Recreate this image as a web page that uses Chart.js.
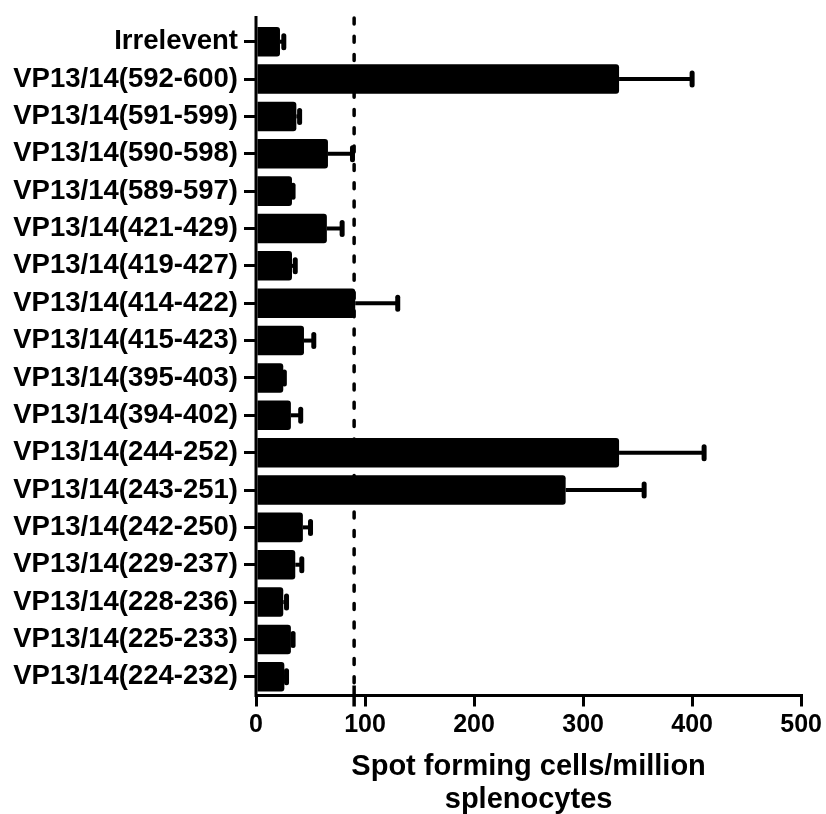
<!DOCTYPE html>
<html>
<head>
<meta charset="utf-8">
<script src="https://cdn.jsdelivr.net/npm/chart.js@4.4.1/dist/chart.umd.min.js"></script>
<style>
  html, body { margin: 0; padding: 0; background: #fff; }
  #wrap { width: 826px; height: 814px; }
</style>
</head>
<body>
<div id="wrap"><canvas id="spotChart"></canvas></div>
<script>
// peptide pools, top to bottom
const peptides = [
    'Irrelevent',
    'VP13/14(592-600)',
    'VP13/14(591-599)',
    'VP13/14(590-598)',
    'VP13/14(589-597)',
    'VP13/14(421-429)',
    'VP13/14(419-427)',
    'VP13/14(414-422)',
    'VP13/14(415-423)',
    'VP13/14(395-403)',
    'VP13/14(394-402)',
    'VP13/14(244-252)',
    'VP13/14(243-251)',
    'VP13/14(242-250)',
    'VP13/14(229-237)',
    'VP13/14(228-236)',
    'VP13/14(225-233)',
    'VP13/14(224-232)'
];
// mean SFC / million splenocytes
const meanSfc = [22, 333, 37, 66, 33, 65, 33, 91, 44, 25, 32, 333, 284, 43, 36, 25, 32, 26];
// SEM (only upper half shown)
const semSfc = [3.5, 67, 3, 22.5, 1, 14, 3, 39, 9, 1, 9, 78, 72, 7, 6, 3, 2, 2];
const xTicks = [0, 100, 200, 300, 400, 500];
const cutoff = 90;

const FONT = "'Liberation Sans', Arial, sans-serif";

const errorBars = {
    id: 'errorBars',
    afterDatasetsDraw(chart) {
        const ctx = chart.ctx;
        const xs = chart.scales.x;
        const meta = chart.getDatasetMeta(0);
        ctx.save();
        ctx.strokeStyle = '#000';
        meta.data.forEach((bar, i) => {
            const x0 = xs.getPixelForValue(meanSfc[i]);
            const x1 = xs.getPixelForValue(meanSfc[i] + semSfc[i]);
            const y = bar.y;
            ctx.lineWidth = 4;
            ctx.lineCap = 'butt';
            ctx.beginPath();
            ctx.moveTo(x0, y);
            ctx.lineTo(x1, y);
            ctx.stroke();
            ctx.lineWidth = 5;
            ctx.lineCap = 'round';
            ctx.beginPath();
            ctx.moveTo(x1, y - 6);
            ctx.lineTo(x1, y + 6);
            ctx.stroke();
        });
        ctx.restore();
    }
};

const axisExtras = {
    id: 'axisExtras',
    afterDraw(chart) {
        const ctx = chart.ctx;
        const area = chart.chartArea;
        const xs = chart.scales.x;
        ctx.save();
        ctx.strokeStyle = '#000';
        // y axis line, runs a bit above the first band
        ctx.lineWidth = 3;
        ctx.beginPath();
        ctx.moveTo(area.left, 16);
        ctx.lineTo(area.left, area.bottom + 1.5);
        ctx.stroke();
        // dashed cutoff
        const xc = xs.getPixelForValue(cutoff);
        ctx.lineWidth = 3.5;
        ctx.lineCap = 'round';
        ctx.setLineDash([6, 12.3]);
        ctx.beginPath();
        ctx.moveTo(xc, 18);
        ctx.lineTo(xc, area.bottom - 8);
        ctx.stroke();
        ctx.setLineDash([]);
        ctx.lineCap = 'butt';
        ctx.beginPath();
        ctx.moveTo(xc, area.bottom - 10);
        ctx.lineTo(xc, area.bottom + 11);
        ctx.stroke();
        ctx.restore();
    }
};

new Chart(document.getElementById('spotChart'), {
    type: 'bar',
    data: {
        labels: peptides,
        datasets: [{
            data: meanSfc,
            backgroundColor: '#000',
            borderWidth: 0,
            borderRadius: 3,
            categoryPercentage: 1,
            barPercentage: 0.79
        }]
    },
    options: {
        indexAxis: 'y',
        responsive: true,
        maintainAspectRatio: false,
        animation: false,
        layout: { padding: { top: 23, right: 24, bottom: 0, left: 0 } },
        plugins: { legend: { display: false }, tooltip: { enabled: false } },
        scales: {
            x: {
                min: 0,
                max: 500,
                afterBuildTicks: (scale) => { scale.ticks = xTicks.map(v => ({ value: v })); },
                afterFit: (scale) => { scale.height = 118.5; },
                grid: { drawOnChartArea: false, tickLength: 11, lineWidth: 3, color: '#000' },
                border: { display: true, width: 3, color: '#000' },
                ticks: { color: '#000', padding: 4, font: { family: FONT, size: 25, weight: 'bold' } },
                title: {
                    display: true,
                    text: ['Spot forming cells/million', 'splenocytes'],
                    color: '#000',
                    padding: { top: 0, bottom: -3 },
                    font: { family: FONT, size: 29, weight: 'bold', lineHeight: 1.15 }
                }
            },
            y: {
                afterFit: (scale) => { scale.width = 256; },
                grid: { offset: false, drawOnChartArea: false, tickLength: 12, lineWidth: 3, color: '#000' },
                border: { display: false },
                ticks: { color: '#000', padding: 6, autoSkip: false, font: { family: FONT, size: 27.5, weight: 'bold' } }
            }
        }
    },
    plugins: [errorBars, axisExtras]
});
</script>
</body>
</html>
